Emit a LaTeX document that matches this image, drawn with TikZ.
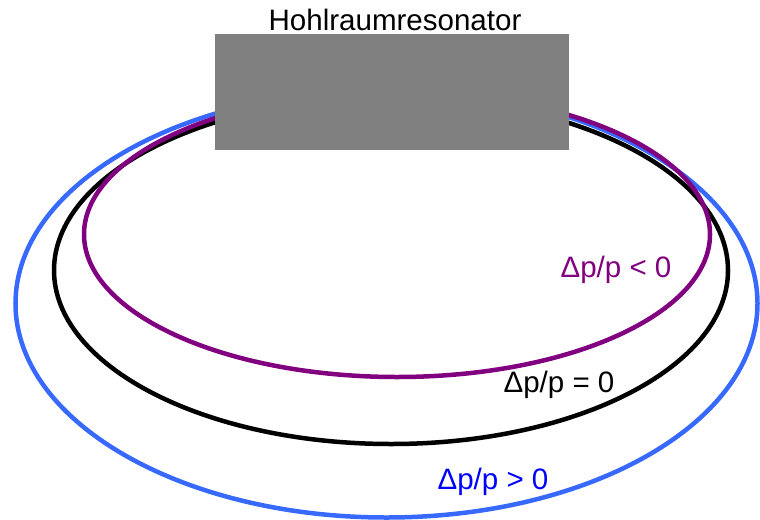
\documentclass[tikz,border=0pt]{standalone}
\usepackage{fontspec}
\setmainfont{Liberation Sans}
\usepackage{tikz}
\usetikzlibrary{positioning}
\definecolor{orbitblue}{RGB}{55,105,255}
\definecolor{orbitpurple}{RGB}{128,0,128}
\tikzset{
  orbit/.style={ line width=3.2pt }
}
\tikzset{
  cavity/.style={ fill=gray, draw=none, inner sep=0pt, minimum width=354*0.025cm, minimum height=116*0.025cm }
}
\tikzset{
  dplabel/.style={ inner sep=0pt, font=\fontsize{21}{24}\selectfont }
}

\begin{document}
\begin{tikzpicture}[x=0.025cm, y=-0.025cm]
      \useasboundingbox (0, 0) rectangle (760, 519);
      \draw[orbit, orbitblue] (386.5, 303.5) ellipse [x radius=371, y radius=214];
      \draw[orbit, black] (391, 270.4) ellipse [x radius=337, y radius=173.6];
      \draw[orbit, orbitpurple] (397, 234.3) ellipse [x radius=313, y radius=142.7];
      \node[cavity] (cav) at (392, 92) {};
      \node[dplabel] (title) at (395, 20) {Hohlraumresonator};
      \node[dplabel, orbitpurple] (neg) at (616, 270) {Δp/p < 0};
      \node[dplabel, black] (zero) at (559, 385) {Δp/p = 0};
      \node[dplabel, blue] (pos) at (493, 482) {Δp/p > 0};
    \end{tikzpicture}
\end{document}
